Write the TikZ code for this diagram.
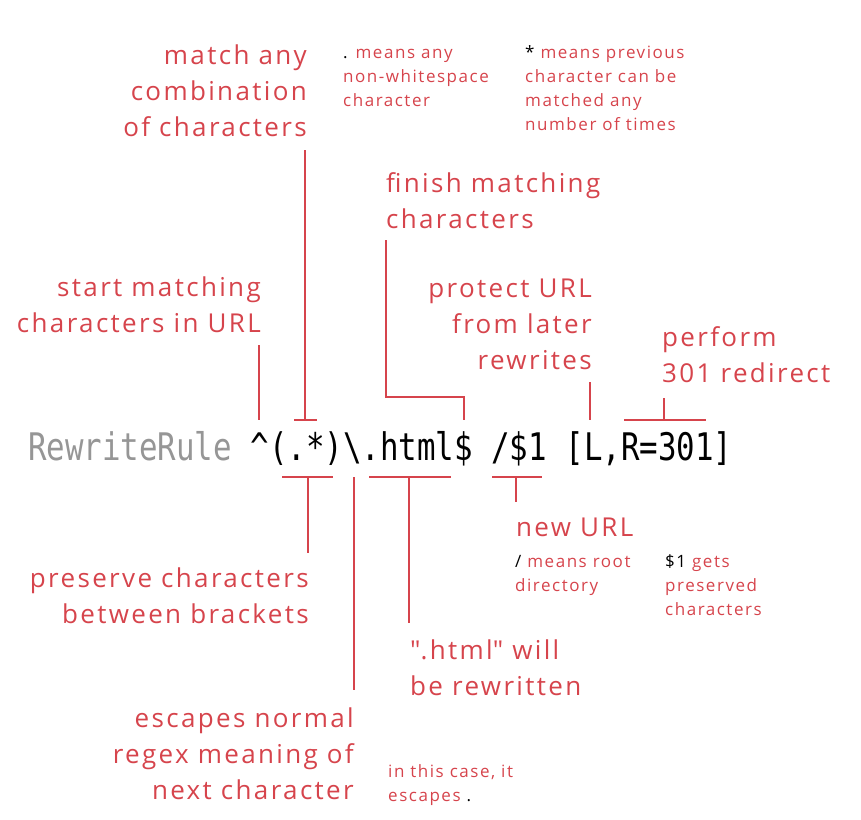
\documentclass[tikz,border=0pt]{standalone}
\usepackage{fontspec}
\setmainfont[LetterSpace=9]{Open Sans}
\newfontfamily\codefont{DejaVu Sans Mono}
\definecolor{lab}{RGB}{214,68,76}
\definecolor{codegray}{RGB}{150,150,150}
\tikzset{
  big/.style={text=lab, font=\fontsize{26}{36}\selectfont, inner sep=0pt},
  small/.style={text=lab, font=\fontsize{17}{24}\selectfont, inner sep=0pt},
  conn/.style={draw=lab, line width=2.6pt}
}
\begin{document}
\begin{tikzpicture}[x=1pt,y=-1pt]
\useasboundingbox (0,0) rectangle (861,819);
% code line
\node[anchor=base west, inner sep=0pt] (code) at (28,460)
  {\scalebox{0.81}[1]{\codefont\fontsize{38}{38}\selectfont\textcolor{codegray}{RewriteRule} \textasciicircum(.*)\textbackslash.html\$ /\$1 [L,R=301]}};
% labels (base anchor = baseline of last line)
\node[big, align=right, anchor=base east] (match) at (307,136) {match any\\combination\\of characters};
\node[small, align=left, anchor=base west] (dot) at (343,106) {\textcolor{black}{.} means any\\non-whitespace\\character};
\node[small, align=left, anchor=base west] (star) at (525,130) {\textcolor{black}{*} means previous\\character can be\\matched any\\number of times};
\node[big, align=left, anchor=base west] (finish) at (386,228) {finish matching\\characters};
\node[big, align=right, anchor=base east] (start) at (261,332) {start matching\\characters in URL};
\node[big, align=right, anchor=base east] (protect) at (592,369) {protect URL\\from later\\rewrites};
\node[big, align=left, anchor=base west] (perform) at (662,382) {perform\\301 redirect};
\node[big, anchor=base west] (newurl) at (516,536) {new URL};
\node[small, align=left, anchor=base west] (slash) at (515,591) {\textcolor{black}{/} means root\\directory};
\node[small, align=left, anchor=base west] (dollar) at (665,615) {\textcolor{black}{\$1} gets\\preserved\\characters};
\node[big, align=right, anchor=base east] (preserve) at (309,623) {preserve characters\\between brackets};
\node[big, align=left, anchor=base west] (html) at (410,695) {\textquotedbl.html\textquotedbl{} will\\be rewritten};
\node[big, align=right, anchor=base east] (escapes) at (354,799) {escapes normal\\regex meaning of\\next character};
\node[small, align=left, anchor=base west] (case) at (388,801) {in this case, it\\escapes \textcolor{black}{.}};
% connector end points
\coordinate (s1) at (259,345); \coordinate (s2) at (259,420);
\coordinate (m1) at (305,150); \coordinate (m2) at (305,420);
\coordinate (mL) at (294,420); \coordinate (mR) at (317,420);
\coordinate (f1) at (386,240); \coordinate (f2) at (386,397);
\coordinate (f3) at (464,397); \coordinate (f4) at (464,420);
\coordinate (p1) at (590,382); \coordinate (p2) at (590,420);
\coordinate (r1) at (664,398); \coordinate (r2) at (664,420);
\coordinate (rL) at (624,420); \coordinate (rR) at (706,420);
\coordinate (b1L) at (282,477); \coordinate (b1R) at (333,477);
\coordinate (b1a) at (308,477); \coordinate (b1b) at (308,553);
\coordinate (e1) at (354,477); \coordinate (e2) at (354,690);
\coordinate (h1L) at (369,477); \coordinate (h1R) at (451,477);
\coordinate (h1a) at (409,477); \coordinate (h1b) at (409,623);
\coordinate (n1L) at (492,477); \coordinate (n1R) at (542,477);
\coordinate (n1a) at (516,477); \coordinate (n1b) at (516,502);
% connectors
\draw[conn] (s1) -- (s2);
\draw[conn] (m1) -- (m2); \draw[conn] (mL) -- (mR);
\draw[conn] (f1) -- (f2) -- (f3) -- (f4);
\draw[conn] (p1) -- (p2);
\draw[conn] (r1) -- (r2); \draw[conn] (rL) -- (rR);
\draw[conn] (b1L) -- (b1R); \draw[conn] (b1a) -- (b1b);
\draw[conn] (e1) -- (e2);
\draw[conn] (h1L) -- (h1R); \draw[conn] (h1a) -- (h1b);
\draw[conn] (n1L) -- (n1R); \draw[conn] (n1a) -- (n1b);
\end{tikzpicture}
\end{document}
